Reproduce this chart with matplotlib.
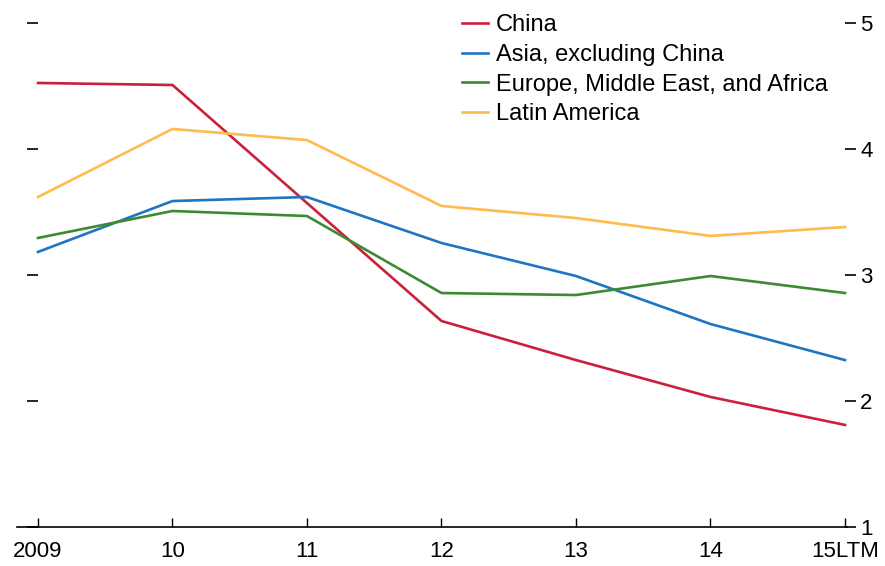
import matplotlib.pyplot as plt

plt.rcParams['font.family'] = ['Liberation Sans', 'DejaVu Sans']

years = ['2009', '10', '11', '12', '13', '14', '15LTM']
china = [4.524, 4.508, 3.571, 2.635, 2.325, 2.032, 1.81]
asia_ex_china = [3.183, 3.587, 3.619, 3.254, 2.992, 2.611, 2.325]
emea = [3.294, 3.508, 3.468, 2.857, 2.841, 2.992, 2.857]
latin_america = [3.619, 4.159, 4.071, 3.548, 3.452, 3.310, 3.381]

series = [
    ('China', china, '#cc1f3c'),
    ('Asia, excluding China', asia_ex_china, '#1f74c4'),
    ('Europe, Middle East, and Africa', emea, '#3e8a33'),
    ('Latin America', latin_america, '#ffbb4d'),
]

fig = plt.figure(figsize=(8.85, 5.66), dpi=100)
# axes spans pixel x 17..847, y 23..527
ax = fig.add_axes([17 / 885, 39 / 566, 830 / 885, 504 / 566])

x = list(range(len(years)))
for name, vals, color in series:
    ax.plot(x, vals, color=color, lw=1.9, label=name)

ax.set_xlim(-0.156, 6.015)
ax.set_ylim(1, 5)
ax.set_xticks(x)
ax.set_xticklabels(years, fontsize=16)
ax.tick_params(axis='x', direction='in', length=6.5, width=1, pad=10)

ax.set_yticks([1, 2, 3, 4, 5])
ax.spines['left'].set_position(('data', 0))
ax.spines['right'].set_position(('data', 6))
ax.spines['left'].set_visible(False)
ax.spines['right'].set_visible(False)
ax.spines['top'].set_visible(False)
ax.spines['bottom'].set_linewidth(1.2)
ax.tick_params(axis='y', which='both', left=True, right=True, labelleft=False,
               labelright=True, direction='out', length=8, width=1.2,
               labelsize=16, pad=3)

leg = ax.legend(loc='upper left', bbox_to_anchor=(0.5248, 1.036), frameon=False,
                fontsize=17, handlelength=1.1, handletextpad=0.34,
                labelspacing=0.325, borderaxespad=0)

fig.savefig('out.png', dpi=100)
